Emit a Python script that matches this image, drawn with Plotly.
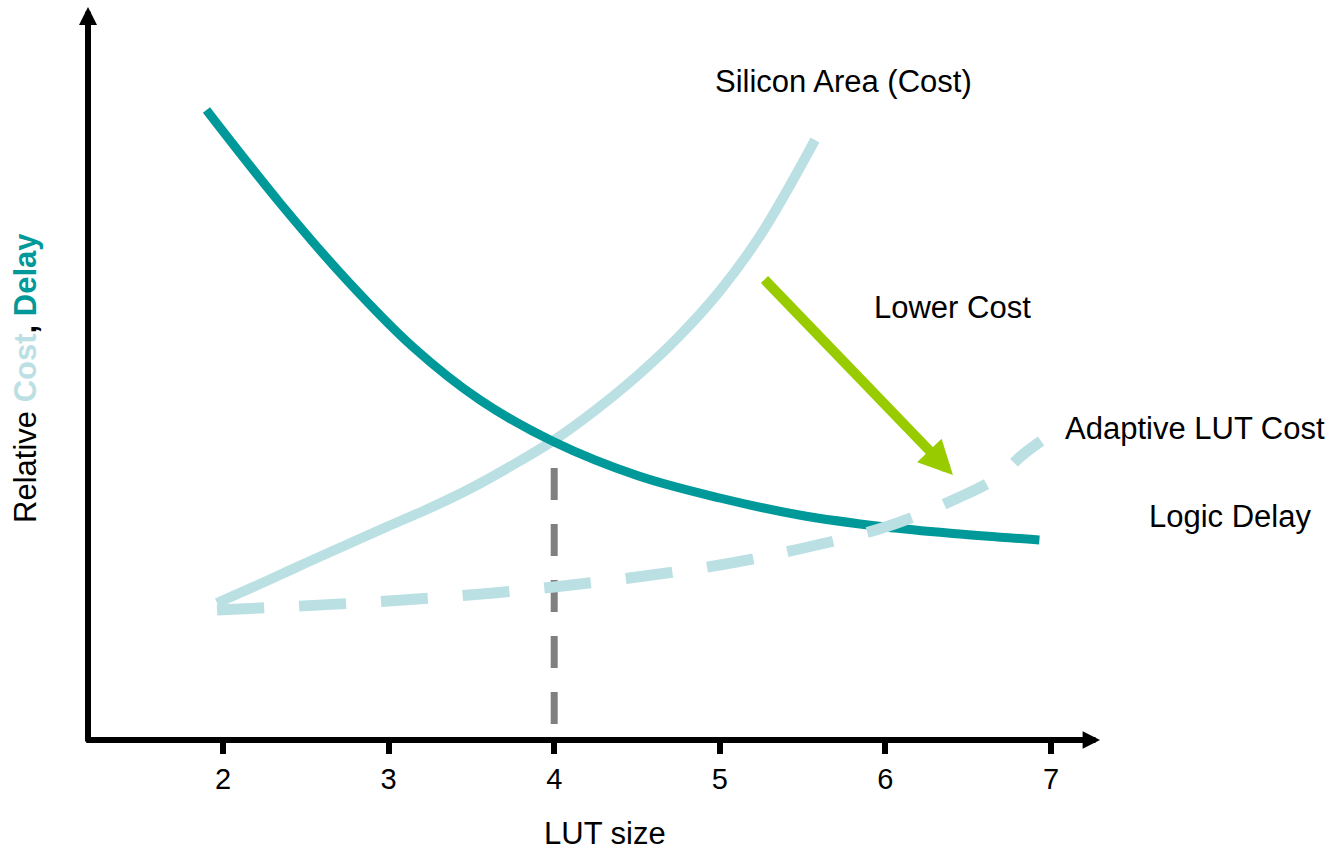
import plotly.graph_objects as go

# LUT size vs. relative cost / delay (arbitrary relative units)
delay_x = [1.90, 2.344, 2.747, 3.147, 3.552, 4.0, 4.51, 5.0, 5.48, 6.0, 6.45, 6.93]
delay_y = [6.30, 5.37, 4.60, 3.93, 3.40, 2.98, 2.64, 2.42, 2.25, 2.13, 2.06, 2.00]

area_x = [1.964, 2.25, 2.5, 2.75, 3.0, 3.25, 3.5, 3.75, 4.0, 4.25, 4.5, 4.75, 5.0, 5.25, 5.575]
area_y = [1.37, 1.58, 1.77, 1.955, 2.14, 2.32, 2.52, 2.75, 3.00, 3.30, 3.64, 4.03, 4.49, 5.06, 6.00]

adaptive_x = [1.964, 3.0, 4.0, 5.0, 5.48, 6.0, 6.45, 6.69, 6.82, 6.94]
adaptive_y = [1.30, 1.39, 1.53, 1.75, 1.91, 2.13, 2.43, 2.64, 2.84, 2.99]

marker_x = [4.0, 4.0]
marker_y = [0.16, 2.96]

tick_vals = [2, 3, 4, 5, 6, 7]
tick_text = ["2", "3", "4", "5", "6", "7"]

TEAL = "#009999"
LIGHT = "#bbe0e3"
GREEN = "#99cc00"
GRAY = "#808080"
FONT = "Liberation Sans, Arial, sans-serif"

X_RANGE = [1.1848, 7.2053]
Y_RANGE = [0, 7.14]
MARGIN = dict(l=88, r=252, t=26, b=111)
W, H = 1337, 851
PLOT_W = W - MARGIN["l"] - MARGIN["r"]
PLOT_H = H - MARGIN["t"] - MARGIN["b"]


def px(xv):
    """data x -> paper x"""
    return (xv - X_RANGE[0]) / (X_RANGE[1] - X_RANGE[0])


def py(yv):
    """data y -> paper y"""
    return (yv - Y_RANGE[0]) / (Y_RANGE[1] - Y_RANGE[0])


def dx_pixels(dx):
    return dx * PLOT_W / (X_RANGE[1] - X_RANGE[0])


def dy_pixels(dy):
    return dy * PLOT_H / (Y_RANGE[1] - Y_RANGE[0])


def arrow(tip, tail, width, size, color):
    """arrow from tail to tip, both given in data units"""
    return dict(
        x=px(tip[0]), y=py(tip[1]), xref="paper", yref="paper",
        axref="pixel", ayref="pixel",
        ax=dx_pixels(tail[0] - tip[0]), ay=-dy_pixels(tail[1] - tip[1]),
        text="", showarrow=True, arrowhead=2, arrowsize=size,
        arrowwidth=width, arrowcolor=color,
    )


fig = go.Figure()

fig.add_trace(go.Scatter(
    x=marker_x, y=marker_y, mode="lines",
    line=dict(color=GRAY, width=7, dash="32px,24px"),
    hoverinfo="skip", showlegend=False, cliponaxis=False,
))
fig.add_trace(go.Scatter(
    x=area_x, y=area_y, mode="lines", name="Silicon Area (Cost)",
    line=dict(color=LIGHT, width=10, shape="spline", smoothing=1),
    showlegend=False, cliponaxis=False,
))
fig.add_trace(go.Scatter(
    x=delay_x, y=delay_y, mode="lines", name="Logic Delay",
    line=dict(color=TEAL, width=9, shape="spline", smoothing=1),
    showlegend=False, cliponaxis=False,
))
fig.add_trace(go.Scatter(
    x=adaptive_x, y=adaptive_y, mode="lines", name="Adaptive LUT Cost",
    line=dict(color=LIGHT, width=11, shape="spline", smoothing=1, dash="47px,35px"),
    showlegend=False, cliponaxis=False,
))

annotations = [
    # axes with arrowheads
    arrow((7.296, 0.0), (X_RANGE[0] - 0.02, 0.0), 6, 0.58, "black"),
    arrow((X_RANGE[0], 7.33), (X_RANGE[0], -0.03), 6, 0.6, "black"),
    # "Lower Cost" arrow
    arrow((6.408, 2.65), (5.261, 4.62), 10, 0.68, GREEN),
]

label_font = dict(family=FONT, size=31, color="black")
for txt, lx, ly in [
    ("Silicon Area (Cost)", 4.959, 6.58),
    ("Lower Cost", 5.919, 4.32),
    ("Adaptive LUT Cost", 7.072, 3.12),
    ("Logic Delay", 7.580, 2.24),
    ("LUT size", 3.926, -0.93),
]:
    annotations.append(dict(
        x=px(lx), y=py(ly), xref="paper", yref="paper", text=txt, showarrow=False,
        xanchor="left", yanchor="middle", font=label_font,
    ))

annotations.append(dict(
    x=px(0.810), y=py(3.62), xref="paper", yref="paper", showarrow=False, textangle=-90,
    xanchor="center", yanchor="middle", font=label_font,
    text=("Relative <b><span style='color:%s'>Cost</span>, "
          "<span style='color:%s'>Delay</span></b>") % (LIGHT, TEAL),
))

fig.update_layout(
    width=W, height=H,
    margin=MARGIN,
    paper_bgcolor="white", plot_bgcolor="white",
    annotations=annotations,
    xaxis=dict(
        range=X_RANGE, tickvals=tick_vals, ticktext=tick_text,
        ticks="outside", ticklen=13, tickwidth=6, tickcolor="black",
        showgrid=False, zeroline=False, showline=False,
        tickfont=dict(family=FONT, size=29, color="black"),
        fixedrange=True,
    ),
    yaxis=dict(range=Y_RANGE, visible=False, fixedrange=True),
    showlegend=False,
)

fig.write_html("out.html")
